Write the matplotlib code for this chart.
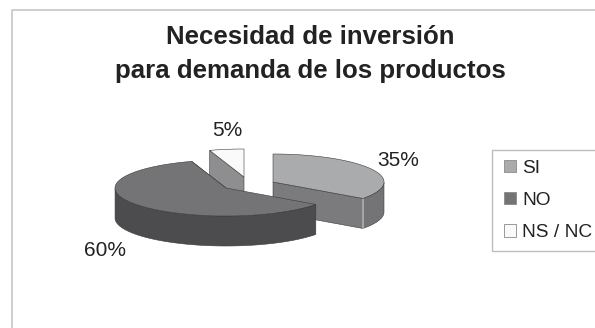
#!/usr/bin/env python3
# -*- coding: utf-8 -*-

import numpy as np
import matplotlib
matplotlib.use("Agg")
import matplotlib.pyplot as plt
from matplotlib.patches import Patch, Polygon


TITLE = "Necesidad de inversión\npara demanda de los productos"
CATEGORIES = ["SI", "NO", "NS / NC"]
VALUES = [35, 60, 5]
LABEL_POS = [(398, 161), (105, 250), (227, 131)]

TOP_COLORS = ["#a9abad", "#747476", "#fafafa"]
OUTER_COLORS = ["#747476", "#4c4c4e", "#8e8e90"]
CUT_COLORS = ["#7b7b7d", "#4c4c4e", "#8e8e90"]
APEX = [(273, 182), (226, 188), (244, 177)]    # centro de cada porcion separada
RX = 111
RY = 28
DEPTH = 30
EDGE = "#3a3a3a"

plt.rcParams["font.family"] = ["Liberation Sans", "DejaVu Sans"]


# punto(s) del borde de la elipse, angulo en grados desde las 12 en sentido horario
def rim(apex, deg):
    rad = np.radians(deg)
    return np.column_stack([apex[0] + RX * np.sin(rad), apex[1] - RY * np.cos(rad)])


def add_poly(ax, pts, color, z):
    ax.add_patch(Polygon(pts, closed=True, facecolor=color, edgecolor=EDGE, linewidth=0.4, zorder=z))


# dibuja una porcion: cara de corte, pared exterior y tapa
def draw_slice(ax, i, start, end, z):
    apex = APEX[i]
    down = np.array([0, DEPTH])
    angles = np.linspace(start, end, 80)
    edge = rim(apex, angles)
    center = np.array([apex])

    # la cara de corte visible de NS / NC es la del inicio, en las otras la del final
    cut_deg = start if i == 2 else end
    cut = rim(apex, np.array([cut_deg]))
    add_poly(ax, np.vstack([center, cut, cut + down, center + down]), CUT_COLORS[i], z)

    # pared exterior solo en la mitad delantera de la elipse
    front = angles[(angles >= 90) & (angles <= 270)]
    if len(front) > 1:
        wall = rim(apex, front)
        add_poly(ax, np.vstack([wall, wall[::-1] + down]), OUTER_COLORS[i], z + 0.1)

    add_poly(ax, np.vstack([center, edge]), TOP_COLORS[i], z + 0.2)


def main():
    fig = plt.figure(figsize=(5.95, 3.28), dpi=100)
    ax = fig.add_axes([0, 0, 1, 1])
    ax.set_xlim(0, 595)
    ax.set_ylim(328, 0)
    ax.axis("off")

    # marco del grafico, sale por la derecha y por abajo
    ax.plot([11.5, 11.5, 600], [335, 9.5, 9.5], color="#c6c6c6", linewidth=1.2)

    ax.text(
        310, 54, TITLE, ha="center", va="center",
        fontsize=18.6, fontweight="bold", color="#222222", linespacing=1.5
    )

    # porciones en orden de atras hacia delante
    limits = np.cumsum([0] + VALUES) * 3.6
    for z, i in enumerate([2, 0, 1]):
        draw_slice(ax, i, limits[i], limits[i + 1], z + 2)

    # filete claro en la esquina delantera de la porcion SI
    corner = rim(APEX[0], np.array([limits[1]]))[0]
    ax.plot([corner[0], corner[0]], [corner[1], corner[1] + DEPTH], color="#b4b4b6", linewidth=1.2, zorder=3.15)

    for value, pos in zip(VALUES, LABEL_POS):
        ax.text(pos[0], pos[1], f"{value}%", ha="center", va="center", fontsize=15, color="#222222", zorder=10)

    handles = [
        Patch(facecolor=c, edgecolor="#8a8a8a", linewidth=0.6, label=name)
        for c, name in zip(TOP_COLORS, CATEGORIES)
    ]
    leg = ax.legend(
        handles=handles, loc="upper left", bbox_to_anchor=(492, 150), bbox_transform=ax.transData,
        fontsize=13.8, frameon=True, fancybox=False, borderaxespad=0, borderpad=0.5,
        handlelength=0.62, handleheight=0.6, handletextpad=0.44, labelspacing=0.8,
        labelcolor="#222222"
    )
    leg.get_frame().set_edgecolor("#bdbdbd")
    leg.get_frame().set_linewidth(1.0)
    leg.get_frame().set_alpha(1.0)
    # los cuadros van un poco mas adentro del marco de la leyenda
    for h in leg.legend_handles:
        h.set_x(h.get_x() + 1.8)

    fig.savefig("out.png", dpi=100)
    plt.close(fig)


if __name__ == "__main__":
    main()
